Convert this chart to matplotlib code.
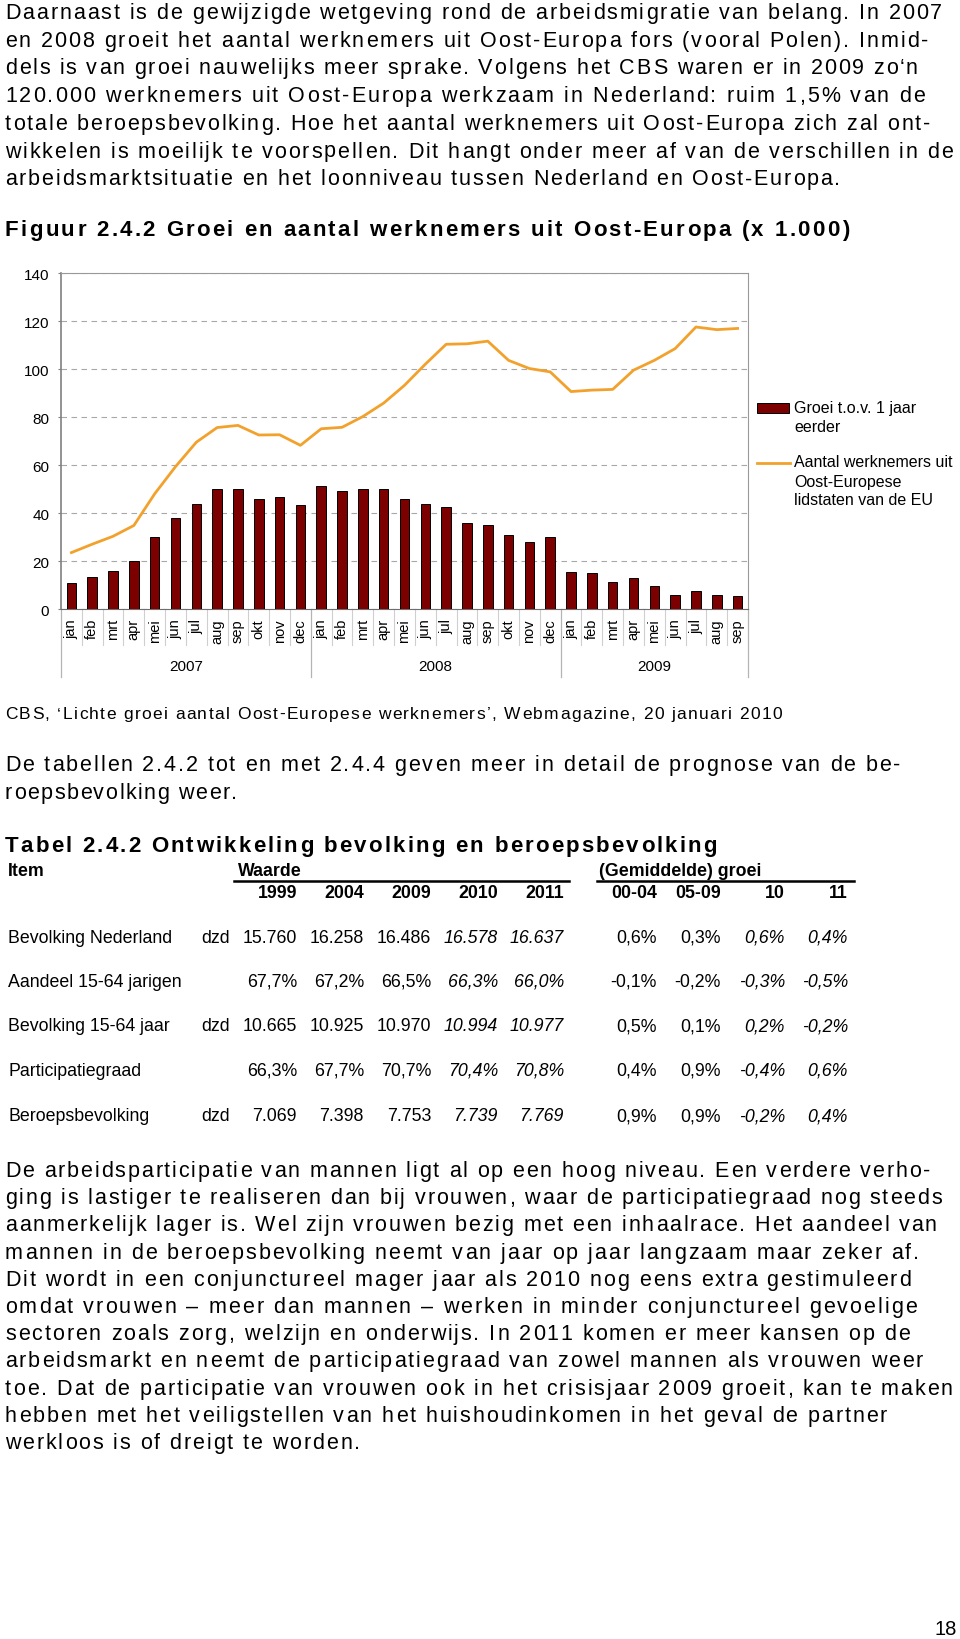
import matplotlib
matplotlib.use("Agg")
import matplotlib.pyplot as plt
import matplotlib.transforms as mtransforms
from matplotlib.font_manager import FontProperties, findfont, get_font
from matplotlib.lines import Line2D
from matplotlib.patches import Rectangle
import numpy as np

try:
    from matplotlib.ft2font import LoadFlags
    NO_HINTING = LoadFlags.NO_HINTING
except ImportError:
    from matplotlib.ft2font import LOAD_NO_HINTING as NO_HINTING

W, H = 960, 1640
FONT = "Liberation Sans"
plt.rcParams["font.family"] = [FONT, "DejaVu Sans"]

# ---------------------------------------------------------------- chart data
month_labels = ["jan", "feb", "mrt", "apr", "mei", "jun", "jul", "aug", "sep", "okt", "nov", "dec",
                "jan", "feb", "mrt", "apr", "mei", "jun", "jul", "aug", "sep", "okt", "nov", "dec",
                "jan", "feb", "mrt", "apr", "mei", "jun", "jul", "aug", "sep"]
years = ["2007", "2008", "2009"]
months_per_year = [12, 12, 9]

# growth vs one year earlier (x 1.000)
groei = [11.0, 13.4, 15.9, 19.8, 29.8, 37.8, 43.8, 50.2, 49.8, 45.9, 46.7, 43.3,
         51.2, 49.3, 50.2, 50.2, 45.9, 43.8, 42.3, 35.8, 34.8, 30.9, 27.8, 29.9,
         15.6, 15.0, 11.1, 12.9, 9.5, 6.0, 7.5, 6.0, 5.4]

# workers from Eastern European member states (x 1.000)
aantal = [23.5, 27.0, 30.3, 34.8, 48.0, 59.3, 69.5, 75.6, 76.5, 72.5, 72.6, 68.2,
          75.1, 75.7, 80.2, 85.8, 93.2, 102.0, 110.3, 110.5, 111.6, 103.6, 100.2, 98.8,
          90.6, 91.2, 91.5, 99.5, 103.6, 108.5, 117.5, 116.4, 116.9]

legend_bar = ["Groei t.o.v. 1 jaar", "eerder"]
legend_line = ["Aantal werknemers uit", "Oost-Europese", "lidstaten van de EU"]

# ---------------------------------------------------------------- table data
row_names = ["Bevolking Nederland", "Aandeel 15-64 jarigen", "Bevolking 15-64 jaar",
             "Participatiegraad", "Beroepsbevolking"]
row_units = ["dzd", "", "dzd", "", "dzd"]
value_years = ["1999", "2004", "2009", "2010", "2011"]
growth_periods = ["00-04", "05-09", "10", "11"]
values = [
    ["15.760", "16.258", "16.486", "16.578", "16.637"],
    ["67,7%", "67,2%", "66,5%", "66,3%", "66,0%"],
    ["10.665", "10.925", "10.970", "10.994", "10.977"],
    ["66,3%", "67,7%", "70,7%", "70,4%", "70,8%"],
    ["7.069", "7.398", "7.753", "7.739", "7.769"],
]
growth = [
    ["0,6%", "0,3%", "0,6%", "0,4%"],
    ["-0,1%", "-0,2%", "-0,3%", "-0,5%"],
    ["0,5%", "0,1%", "0,2%", "-0,2%"],
    ["0,4%", "0,9%", "-0,4%", "0,6%"],
    ["0,9%", "0,9%", "-0,2%", "0,4%"],
]

# ---------------------------------------------------------------- page text
intro_lines = [
    "Daarnaast is de gewijzigde wetgeving rond de arbeidsmigratie van belang. In 2007",
    "en 2008 groeit het aantal werknemers uit Oost-Europa fors (vooral Polen). Inmid-",
    "dels is van groei nauwelijks meer sprake. Volgens het CBS waren er in 2009 zo\u2018n",
    "120.000 werknemers uit Oost-Europa werkzaam in Nederland: ruim 1,5% van de",
    "totale beroepsbevolking. Hoe het aantal werknemers uit Oost-Europa zich zal ont-",
    "wikkelen is moeilijk te voorspellen. Dit hangt onder meer af van de verschillen in de",
    "arbeidsmarktsituatie en het loonniveau tussen Nederland en Oost-Europa.",
]
intro_ends = [942, 928, 918, 925, 930, 953, 840]

figure_title = "Figuur 2.4.2 Groei en aantal werknemers uit Oost-Europa (x 1.000)"
source_line = "CBS, \u2018Lichte groei aantal Oost-Europese werknemers\u2019, Webmagazine, 20 januari 2010"
tabel_lines = [
    "De tabellen 2.4.2 tot en met 2.4.4 geven meer in detail de prognose van de be-",
    "roepsbevolking weer.",
]
tabel_ends = [900, 237]
table_title = "Tabel 2.4.2 Ontwikkeling bevolking en beroepsbevolking"

closing_lines = [
    "De arbeidsparticipatie van mannen ligt al op een hoog niveau. Een verdere verho-",
    "ging is lastiger te realiseren dan bij vrouwen, waar de participatiegraad nog steeds",
    "aanmerkelijk lager is. Wel zijn vrouwen bezig met een inhaalrace. Het aandeel van",
    "mannen in de beroepsbevolking neemt van jaar op jaar langzaam maar zeker af.",
    "Dit wordt in een conjunctureel mager jaar als 2010 nog eens extra gestimuleerd",
    "omdat vrouwen \u2013 meer dan mannen \u2013 werken in minder conjunctureel gevoelige",
    "sectoren zoals zorg, welzijn en onderwijs. In 2011 komen er meer kansen op de",
    "arbeidsmarkt en neemt de participatiegraad van zowel mannen als vrouwen weer",
    "toe. Dat de participatie van vrouwen ook in het crisisjaar 2009 groeit, kan te maken",
    "hebben met het veiligstellen van het huishoudinkomen in het geval de partner",
    "werkloos is of dreigt te worden.",
]
closing_ends = [930, 942, 937, 919, 911, 917, 910, 923, 953, 887, 360]

BAR_COLOR = "#7d0000"
LINE_COLOR = "#f2a22c"
BODY = 15.5

fig = plt.figure(figsize=(W / 100, H / 100), dpi=100)
fig.patch.set_facecolor("white")


def fx(x):
    return x / W


def fy(y):
    # pixel rows counted from the top of the page
    return 1 - y / H


_advances = {}


def advance(c, prop):
    # unhinted glyph advance in pixels at 100 dpi
    key = (c, prop.get_size_in_points(), prop.get_weight())
    if key not in _advances:
        font = get_font(findfont(prop))
        font.set_size(prop.get_size_in_points(), 100)
        glyph = font.load_char(ord(c), flags=NO_HINTING)
        _advances[key] = glyph.linearHoriAdvance / 65536
    return _advances[key]


def set_line(line, y, x_end, x0=5, size=BODY, weight="normal"):
    """Letter-space one typeset line so it runs from x0 to x_end, like the PDF."""
    prop = FontProperties(family=FONT, size=size, weight=weight)
    adv = [advance(c, prop) for c in line]
    track = (x_end - x0 - sum(adv)) / (len(line) - 1)
    x = x0
    for c, a in zip(line, adv):
        if c != " ":
            fig.text(fx(x), fy(y + 6), c, ha="left", va="baseline",
                     fontproperties=prop, color="black")
        x += a + track


# ---------------------------------------------------------------- body text
for i, (line, end) in enumerate(zip(intro_lines, intro_ends)):
    set_line(line, 13 + 27.7 * i, end)

set_line(figure_title, 230, 849, size=16, weight="bold")

set_line(source_line, 713, 782, size=12.5)
for i, (line, end) in enumerate(zip(tabel_lines, tabel_ends)):
    set_line(line, 765 + 28 * i, end)
set_line(table_title, 846, 717, size=16, weight="bold")

for i, (line, end) in enumerate(zip(closing_lines, closing_ends)):
    set_line(line, 1171 + 27.2 * i, end)

fig.text(fx(957), fy(1630), "18", ha="right", va="center", fontsize=14.5)

# ---------------------------------------------------------------- chart
ax = fig.add_axes([fx(61), fy(610), (748 - 61) / W, (610 - 274) / H])
xs = np.arange(len(groei))
ax.bar(xs, groei, width=0.46, color=BAR_COLOR, edgecolor="black", linewidth=0.7, zorder=3)
ax.plot(xs, aantal, color=LINE_COLOR, linewidth=2.0, zorder=4, solid_joinstyle="round")

ax.set_xlim(-0.5, len(groei) - 0.5)
ax.set_ylim(0, 140)
ax.set_yticks(np.arange(0, 141, 20))
ax.yaxis.grid(True, linestyle=(0, (5, 4)), color="#a8a8a8", linewidth=0.8)
ax.set_axisbelow(True)
ax.set_xticks(xs, month_labels, rotation=90)
ax.tick_params(axis="x", length=0, pad=6.5, labelsize=10.5)
ax.tick_params(axis="y", length=2.5, pad=6, color="#808080", labelsize=11)
for side in ["top", "right"]:
    ax.spines[side].set_color("#999999")
ax.spines["left"].set_color("#808080")
ax.spines["left"].set_linewidth(1.2)
ax.spines["bottom"].set_color("#6e6e6e")

# category separators below the axis, longer ones between the years
plot_h = 610 - 274
trans = mtransforms.blended_transform_factory(ax.transData, ax.transAxes)
year_starts = np.cumsum([0] + months_per_year)
for b in range(len(groei) + 1):
    if b in year_starts:
        ax.plot([b - 0.5, b - 0.5], [0, -68 / plot_h], transform=trans,
                color="#b4b4b4", linewidth=0.9, clip_on=False)
    else:
        ax.plot([b - 0.5, b - 0.5], [0, -36 / plot_h], transform=trans,
                color="#cfcfcf", linewidth=0.8, clip_on=False)
for year, start, n in zip(years, year_starts, months_per_year):
    ax.text(start + n / 2 - 0.5, -57 / plot_h, year, transform=trans,
            ha="center", va="center", fontsize=11)

# legend at the right of the plot
fig.add_artist(Rectangle((fx(757), fy(414)), 32 / W, 10 / H, transform=fig.transFigure,
                         facecolor=BAR_COLOR, edgecolor="black", linewidth=0.7))
fig.add_artist(Line2D([fx(757), fx(790)], [fy(464), fy(464)], transform=fig.transFigure,
                      color=LINE_COLOR, linewidth=2.0))
for i, s in enumerate(legend_bar):
    fig.text(fx(794), fy(408 + 19 * i), s, ha="left", va="center", fontsize=11.5)
for i, s in enumerate(legend_line):
    fig.text(fx(794), fy(463 + 19 * i), s, ha="left", va="center", fontsize=11.5)

# ---------------------------------------------------------------- table
TS = 12.8
value_right = [297, 364, 431, 498, 564]
growth_right = [657, 721, 785, 848]
row_y = [938, 982, 1026, 1071, 1116]

fig.text(fx(8), fy(871 + 5), "Item", ha="left", va="baseline", fontsize=TS, weight="bold")
fig.text(fx(238), fy(871 + 5), "Waarde", ha="left", va="baseline", fontsize=TS, weight="bold")
fig.text(fx(599), fy(871 + 5), "(Gemiddelde) groei", ha="left", va="baseline",
         fontsize=TS, weight="bold")
fig.add_artist(Line2D([fx(234), fx(569)], [fy(882), fy(882)], transform=fig.transFigure,
                      color="black", linewidth=1.8))
fig.add_artist(Line2D([fx(597), fx(854)], [fy(882), fy(882)], transform=fig.transFigure,
                      color="black", linewidth=1.8))
for lab, xr in zip(value_years + growth_periods, value_right + growth_right):
    fig.text(fx(xr), fy(893 + 5), lab, ha="right", va="baseline", fontsize=TS, weight="bold")

for r, y in enumerate(row_y):
    fig.text(fx(8), fy(y + 5), row_names[r], ha="left", va="baseline", fontsize=TS)
    if row_units[r]:
        fig.text(fx(230), fy(y + 5), row_units[r], ha="right", va="baseline", fontsize=TS)
    for c, xr in enumerate(value_right):
        style = "italic" if c >= 3 else "normal"
        fig.text(fx(xr), fy(y + 5), values[r][c], ha="right", va="baseline",
                 fontsize=TS, style=style)
    for c, xr in enumerate(growth_right):
        style = "italic" if c >= 2 else "normal"
        fig.text(fx(xr), fy(y + 5), growth[r][c], ha="right", va="baseline",
                 fontsize=TS, style=style)

fig.savefig("out.png", dpi=100, facecolor="white")
